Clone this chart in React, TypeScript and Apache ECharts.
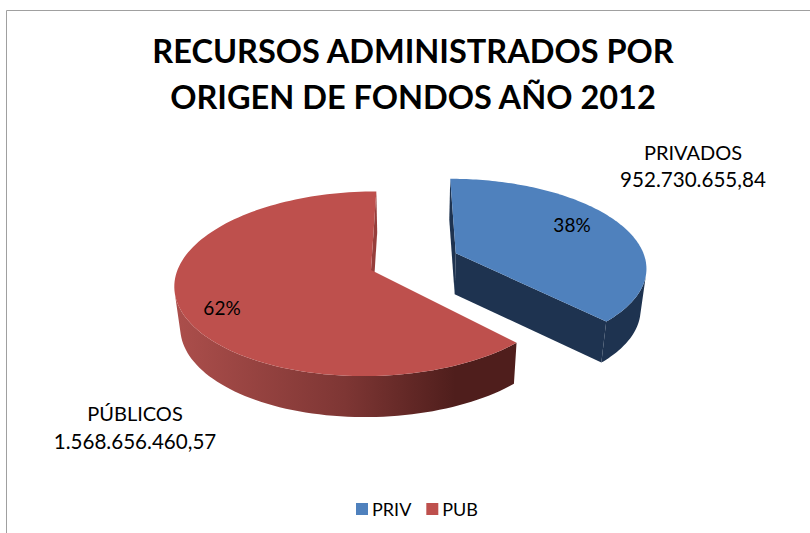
import React, { useEffect, useRef } from "react";
import * as echarts from "echarts";

const categories = ["PRIV", "PUB"];
const values = [952730655.84, 1568656460.57];
const labelNames = ["PRIVADOS", "PÚBLICOS"];
const labelValues = ["952.730.655,84", "1.568.656.460,57"];
const percentLabels = ["38%", "62%"];
const topColors = ["#4F81BD", "#BE504D"];
const FONT = "Lato, Carlito, Calibri, sans-serif";

const total = values.reduce((a, b) => a + b, 0);
const VX = 412;
const VY = 270;
const Q = 0.4667;
const K = 0.000769;
const DEPTH = 41;
const SHRINK = 0.975;
const centers = [
  { x: 45, z: 37, r: 193 },
  { x: -41, z: 0, r: 193.5 },
];
const labelPos = [
  { nx: 693, ny: 152, vy: 179, px: 572, py: 224 },
  { nx: 135, ny: 413, vy: 441, px: 222, py: 307 },
];

function project(wx: number, wz: number): [number, number] {
  const s = 1 / (1 + K * wz);
  return [VX + wx * s, VY - Q * wz * s];
}
function lower(p: number[]): [number, number] {
  return [VX + (p[0] - VX) * SHRINK, p[1] + DEPTH];
}

function sliceElements(idx: number) {
  let before = 0;
  for (let i = 0; i < idx; i++) before += values[i];
  const a0 = (before / total) * Math.PI * 2;
  const a1 = ((before + values[idx]) / total) * Math.PI * 2;
  const c = centers[idx];
  const arc: [number, number][] = [];
  const n = 120;
  for (let i = 0; i <= n; i++) {
    const t = a0 + ((a1 - a0) * i) / n;
    arc.push(project(c.x + c.r * Math.sin(t), c.z + c.r * Math.cos(t)));
  }
  const apex = project(c.x, c.z);
  const children: any[] = [];
  const quad = (a: number[], b: number[], fill: any) => ({
    type: "polygon",
    silent: true,
    shape: { points: [a, b, lower(b), lower(a)] },
    style: { fill },
  });
  const sideFill =
    idx === 0
      ? "#1E3350"
      : new echarts.graphic.LinearGradient(
          178,
          0,
          512,
          0,
          [
            { offset: 0, color: "#AB4E4B" },
            { offset: 0.5, color: "#7E3634" },
            { offset: 0.83, color: "#4F1E1C" },
            { offset: 1, color: "#4F1E1C" },
          ],
          true,
        );
  if (idx === 0) {
    children.push(quad(apex, arc[0], "#1E3350"));
    children.push(quad(apex, arc[n], "#1E3350"));
  } else {
    children.push(quad(apex, arc[n], "#963E3B"));
  }
  // Only the part of the rim that faces the viewer: its outward normal has a
  // positive component along the extrusion direction.
  const visible: [number, number][] = [];
  for (let i = 0; i < n; i++) {
    const a = arc[i];
    const b = arc[i + 1];
    const lowA = lower(a);
    const tx = b[0] - a[0];
    const ty = b[1] - a[1];
    const dx = lowA[0] - a[0];
    const dy = lowA[1] - a[1];
    if (ty * dx - tx * dy > 0) {
      if (visible.length === 0) visible.push(a);
      visible.push(b);
    }
  }
  children.push({
    type: "polygon",
    silent: true,
    shape: { points: [...visible, ...visible.map(lower).reverse()] },
    style: { fill: sideFill },
  });
  children.push({
    type: "polygon",
    silent: true,
    shape: { points: [apex, ...arc] },
    style: { fill: topColors[idx] },
  });
  const lp = labelPos[idx];
  const text = (t: string, x: number, y: number, size: number) => ({
    type: "text",
    silent: true,
    style: {
      text: t,
      x,
      y,
      fill: "#000",
      font: `${size}px ${FONT}`,
      align: "center",
      verticalAlign: "middle",
    },
  });
  children.push(text(percentLabels[idx], lp.px, lp.py, 19));
  children.push(text(labelNames[idx], lp.nx, lp.ny, 20));
  children.push(text(labelValues[idx], lp.nx, lp.vy, 20.6));
  return { type: "group", children };
}

export default function App() {
  const ref = useRef<HTMLDivElement>(null);
  useEffect(() => {
    const chart = echarts.init(ref.current!, null, { renderer: "svg" });
    chart.setOption({
      animation: false,
      backgroundColor: "#fff",
      title: {
        text: "RECURSOS ADMINISTRADOS POR\nORIGEN DE FONDOS AÑO 2012",
        left: 408,
        top: 23,
        textAlign: "center",
        textStyle: {
          fontFamily: FONT,
          fontSize: 32.5,
          fontWeight: "bold",
          color: "#000",
          lineHeight: 45.5,
        },
      },
      legend: {
        data: categories,
        left: 351,
        top: 495,
        itemWidth: 12,
        itemHeight: 12,
        itemGap: 15,
        icon: "rect",
        selectedMode: false,
        textStyle: { fontFamily: FONT, fontSize: 18, color: "#000", padding: [0, 0, 0, -1] },
      },
      graphic: [
        {
          type: "polyline",
          silent: true,
          shape: { points: [[6.5, 533], [6.5, 10.5], [810, 10.5]] },
          style: { stroke: "#A0A0A0", lineWidth: 1, fill: "none" },
        },
      ],
      series: categories.map((name, idx) => ({
        type: "custom",
        name,
        coordinateSystem: "none",
        itemStyle: { color: topColors[idx] },
        data: [values[idx]],
        renderItem: () => sliceElements(idx),
      })),
    });
    return () => chart.dispose();
  }, []);
  return <div ref={ref} style={{ position: "absolute", left: 0, top: 0, width: 810, height: 533 }} />;
}
